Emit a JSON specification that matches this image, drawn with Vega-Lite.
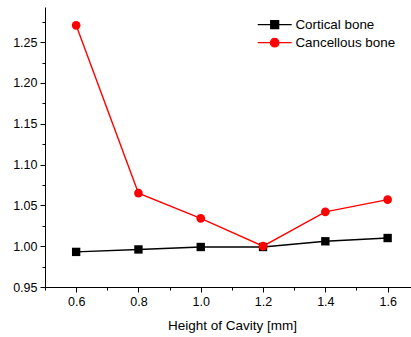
{
  "$schema": "https://vega.github.io/schema/vega-lite/v6.json",
  "autosize": "none",
  "width": 366,
  "height": 280,
  "padding": {"left": 45, "top": 7, "right": 0, "bottom": 50},
  "background": "white",
  "config": {
    "view": {"stroke": null},
    "font": "Liberation Sans",
    "axis": {
      "grid": false,
      "domainColor": "black",
      "domainWidth": 1,
      "tickColor": "black",
      "tickWidth": 1,
      "labelColor": "black",
      "labelFont": "Liberation Sans",
      "labelFontSize": 12.5,
      "labelOverlap": false,
      "labelFlush": false,
      "titleColor": "black",
      "titleFont": "Liberation Sans",
      "titleFontWeight": "normal",
      "titleFontSize": 13.5
    },
    "legend": {
      "labelFont": "Liberation Sans",
      "labelFontSize": 13.4,
      "labelColor": "black"
    }
  },
  "data": {
    "values": [
      {"h": 0.6, "ratio": 0.993, "series": "Cortical bone"},
      {"h": 0.8, "ratio": 0.996, "series": "Cortical bone"},
      {"h": 1.0, "ratio": 0.999, "series": "Cortical bone"},
      {"h": 1.2, "ratio": 0.999, "series": "Cortical bone"},
      {"h": 1.4, "ratio": 1.006, "series": "Cortical bone"},
      {"h": 1.6, "ratio": 1.010, "series": "Cortical bone"},
      {"h": 0.6, "ratio": 1.2705, "series": "Cancellous bone"},
      {"h": 0.8, "ratio": 1.065, "series": "Cancellous bone"},
      {"h": 1.0, "ratio": 1.034, "series": "Cancellous bone"},
      {"h": 1.2, "ratio": 1.000, "series": "Cancellous bone"},
      {"h": 1.4, "ratio": 1.042, "series": "Cancellous bone"},
      {"h": 1.6, "ratio": 1.057, "series": "Cancellous bone"}
    ]
  },
  "encoding": {
    "x": {
      "field": "h",
      "type": "quantitative",
      "scale": {"domain": [0.5, 1.675], "nice": false, "zero": false},
      "axis": {
        "title": "Height of Cavity [mm]",
        "values": [0.5, 0.6, 0.7, 0.8, 0.9, 1.0, 1.1, 1.2, 1.3, 1.4, 1.5, 1.6],
        "labelExpr": "abs(datum.value*5 - round(datum.value*5)) < 1e-6 ? format(datum.value, '.1f') : ''",
        "tickSize": {"condition": {"test": "abs(datum.value*5 - round(datum.value*5)) < 1e-6", "value": 5}, "value": 3},
        "labelPadding": 3,
        "titlePadding": 11,
        "titleX": 187
      }
    },
    "y": {
      "field": "ratio",
      "type": "quantitative",
      "scale": {"domain": [0.95, 1.293], "nice": false, "zero": false},
      "axis": {
        "title": null,
        "values": [0.95, 0.975, 1.0, 1.025, 1.05, 1.075, 1.1, 1.125, 1.15, 1.175, 1.2, 1.225, 1.25, 1.275],
        "labelExpr": "abs(datum.value*20 - round(datum.value*20)) < 1e-6 ? format(datum.value, '.2f') : ''",
        "tickSize": {"condition": {"test": "abs(datum.value*20 - round(datum.value*20)) < 1e-6", "value": 5}, "value": 3},
        "labelPadding": 3
      }
    }
  },
  "layer": [
    {
      "mark": {"type": "line", "strokeWidth": 1.4},
      "encoding": {
        "color": {
          "field": "series",
          "type": "nominal",
          "scale": {"domain": ["Cortical bone", "Cancellous bone"], "range": ["#000000", "#ff0000"]},
          "legend": {
            "title": null,
            "orient": "none",
            "legendX": 223,
            "legendY": 11,
            "symbolSize": 100,
            "labelOffset": 14,
            "rowPadding": 3,
            "padding": 0,
            "encode": {
              "symbols": {
                "update": {
                  "shape": {"signal": "datum.value === 'Cortical bone' ? 'M-3.4,0H3.4M-0.8,-0.8H0.8V0.8H-0.8Z' : 'M-3.4,0H3.4M0.86,0A0.86,0.86 0 1,1 -0.86,0A0.86,0.86 0 1,1 0.86,0Z'"},
                  "fill": {"signal": "datum.value === 'Cortical bone' ? '#000000' : '#ff0000'"},
                  "stroke": {"signal": "datum.value === 'Cortical bone' ? '#000000' : '#ff0000'"},
                  "strokeWidth": {"value": 1.2},
                  "opacity": {"value": 1},
                  "fillOpacity": {"value": 1}
                }
              }
            }
          }
        }
      }
    },
    {
      "transform": [{"filter": "datum.series === 'Cortical bone'"}],
      "mark": {"type": "point", "filled": true, "opacity": 1, "size": 70, "shape": "square", "color": "#000000"}
    },
    {
      "transform": [{"filter": "datum.series === 'Cancellous bone'"}],
      "mark": {"type": "point", "filled": true, "opacity": 1, "size": 75, "shape": "circle", "color": "#ff0000"}
    }
  ]
}
